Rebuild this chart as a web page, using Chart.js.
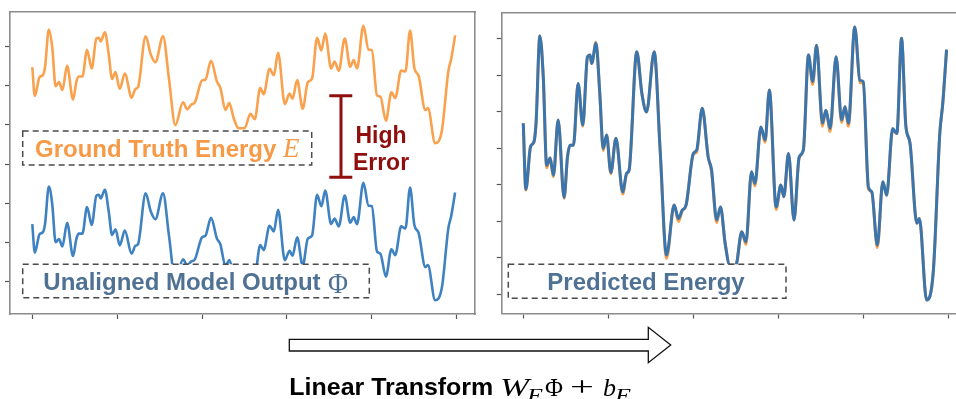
<!DOCTYPE html>
<html><head><meta charset="utf-8">
<script src="https://cdn.jsdelivr.net/npm/chart.js@4"></script>
<style>
html,body{margin:0;padding:0;background:#fff;overflow:hidden;width:956px;height:399px;}
#wrap{position:relative;width:956px;height:399px;overflow:hidden;}
#c1{position:absolute;left:0;top:0;}
#c2{position:absolute;left:490px;top:0;}
#ann{position:absolute;left:0;top:0;}
</style></head><body>
<div id="wrap">
<canvas id="c1" width="490" height="330" style="width:490px;height:330px"></canvas>
<canvas id="c2" width="490" height="330" style="width:490px;height:330px"></canvas>
<svg id="ann" width="956" height="399" viewBox="0 0 956 399">
 <g fill="#fff" stroke="#4a4a4a" stroke-width="1.5" stroke-dasharray="6 4">
  <rect x="22.7" y="131" width="289" height="34"/>
  <rect x="22.7" y="264.3" width="346.6" height="33.4"/>
  <rect x="508.3" y="264.3" width="277.7" height="34"/>
 </g>
 <text x="35" y="157" font-family="Liberation Sans, Arial, sans-serif" font-weight="bold" font-size="24" fill="#f79a48">Ground Truth Energy</text>
 <text x="283" y="157" font-family="Liberation Serif, serif" font-style="italic" font-size="27" fill="#f79a48">E</text>
 <text x="43.3" y="290" font-family="Liberation Sans, Arial, sans-serif" font-weight="bold" font-size="24" fill="#4f7194">Unaligned Model Output</text>
 <text x="328" y="293" font-family="Liberation Serif, serif" font-size="30" textLength="20" lengthAdjust="spacingAndGlyphs" fill="#4f7194">Φ</text>
 <text x="547.3" y="290" font-family="Liberation Sans, Arial, sans-serif" font-weight="bold" font-size="24" fill="#4f7194">Predicted Energy</text>
 <path d="M329.3 95.7 H352.3 M341 95.7 V177.3 M329.3 177.3 H352.3" stroke="#8f0e0e" stroke-width="3" fill="none"/>
 <text x="381" y="143.3" text-anchor="middle" font-family="Liberation Sans, Arial, sans-serif" font-weight="bold" font-size="23" fill="#8f0e0e">High</text>
 <text x="381" y="170" text-anchor="middle" font-family="Liberation Sans, Arial, sans-serif" font-weight="bold" font-size="23" fill="#8f0e0e">Error</text>
 <polygon points="289.3,339.3 648.3,339.3 648.3,327.3 670.7,345 648.3,362.7 648.3,351 289.3,351" fill="#fff" stroke="#111" stroke-width="1.3"/>
 <text x="289.3" y="395" font-family="Liberation Sans, Arial, sans-serif" font-weight="bold" font-size="24" textLength="204" lengthAdjust="spacingAndGlyphs" fill="#000">Linear Transform</text>
 <g font-family="Liberation Serif, serif" fill="#000">
  <text x="500" y="395.5" font-style="italic" font-size="25" textLength="29" lengthAdjust="spacingAndGlyphs">W</text>
  <text x="527" y="402" font-style="italic" font-size="19" textLength="16" lengthAdjust="spacingAndGlyphs">E</text>
  <text x="545" y="396" font-size="26" textLength="18" lengthAdjust="spacingAndGlyphs">Φ</text>
  <text x="570" y="396" font-size="27" textLength="24" lengthAdjust="spacingAndGlyphs">+</text>
  <text x="603" y="396" font-style="italic" font-size="26" textLength="13" lengthAdjust="spacingAndGlyphs">b</text>
  <text x="615" y="402" font-style="italic" font-size="19" textLength="16" lengthAdjust="spacingAndGlyphs">E</text>
 </g>
</svg>
</div>
<script>
// time steps (x positions of the sampled curve)
const timeSteps = [0.0, 0.6, 1.7, 2.5, 3.0, 3.9, 4.7, 5.5, 6.3, 7.1,
  8.2, 9.6, 10.4, 11.0, 11.8, 12.9, 14.0, 15.1, 15.7, 16.1,
  17.1, 18.0, 18.8, 19.6, 20.6, 21.8, 23.4, 24.3, 24.9, 26.7,
  27.9, 29.0, 30.8, 32.2, 33.7, 35.5, 36.5, 37.4, 38.3, 40.0,
  40.8, 42.1, 43.5, 44.3, 45.5, 46.4, 47.5, 48.6, 50.0, 51.4,
  52.4, 53.7, 54.5, 55.9, 56.9, 57.9, 59.5, 60.6, 61.3, 62.4,
  63.7, 64.9, 65.9, 67.1, 68.1, 69.0, 70.4, 71.2, 72.2, 73.6,
  74.9, 75.7, 76.5, 78.0, 79.2, 80.0, 81.2, 82.0, 83.3, 84.6,
  85.5, 86.9, 87.9, 89.0, 90.0, 91.0, 92.6, 93.2, 94.9, 96.5,
  98.0, 98.7, 99.6];

// ground truth energy E
const groundTruth = [4.68, 2.85, 4.04, 4.17, 4.68, 7.07, 5.95, 3.46, 3.73, 3.22,
  4.77, 2.62, 3.76, 4.08, 4.08, 5.77, 4.60, 6.50, 6.55, 6.32,
  6.90, 5.50, 3.93, 4.36, 3.30, 4.27, 2.74, 3.29, 3.40, 6.64,
  5.50, 4.99, 6.64, 3.93, 0.98, 2.44, 1.99, 2.28, 2.44, 3.83,
  3.89, 5.09, 3.76, 3.36, 1.96, 2.39, 1.39, 0.79, 0.79, 1.71,
  1.36, 3.35, 2.96, 4.58, 4.16, 5.59, 2.32, 2.99, 2.67, 3.85,
  2.03, 3.72, 3.95, 6.55, 5.74, 6.82, 4.60, 5.04, 4.45, 6.50,
  4.70, 5.13, 4.60, 7.32, 5.80, 5.76, 2.88, 2.80, 1.27, 3.08,
  2.71, 4.47, 4.40, 7.01, 4.63, 4.13, 1.94, 2.07, -0.16, 0.66,
  4.40, 5.22, 6.70];

// predicted energy W_E Φ + b_E
const predicted = [4.68, 2.87, 4.04, 4.17, 4.68, 7.07, 5.95, 3.53, 3.73, 3.26,
  4.77, 2.65, 3.76, 4.08, 4.08, 5.77, 4.63, 6.50, 6.55, 6.32,
  6.87, 5.50, 3.99, 4.36, 3.33, 4.27, 2.80, 3.31, 3.40, 6.64,
  5.50, 4.99, 6.64, 3.95, 1.07, 2.44, 2.07, 2.30, 2.44, 3.85,
  3.95, 5.09, 3.76, 3.40, 2.03, 2.39, 1.39, 0.79, 0.79, 1.71,
  1.43, 3.35, 3.03, 4.58, 4.22, 5.59, 2.39, 2.99, 2.67, 3.85,
  2.03, 3.75, 3.95, 6.55, 5.82, 6.82, 4.68, 5.04, 4.54, 6.50,
  4.77, 5.13, 4.68, 7.32, 5.86, 5.82, 2.94, 2.80, 1.34, 3.08,
  2.71, 4.54, 4.40, 7.01, 4.63, 4.13, 1.94, 2.07, -0.16, 0.66,
  4.40, 5.22, 6.70];

// unaligned model output Φ
const phi = [-5.32, -7.13, -5.96, -5.83, -5.32, -2.93, -4.05, -6.47, -6.27, -6.74,
  -5.23, -7.35, -6.24, -5.92, -5.92, -4.23, -5.37, -3.50, -3.45, -3.68,
  -3.13, -4.50, -6.01, -5.64, -6.67, -5.73, -7.20, -6.69, -6.60, -3.36,
  -4.50, -5.01, -3.36, -6.05, -8.93, -7.56, -7.93, -7.70, -7.56, -6.15,
  -6.05, -4.91, -6.24, -6.60, -7.97, -7.61, -8.61, -9.21, -9.21, -8.29,
  -8.57, -6.65, -6.97, -5.42, -5.78, -4.41, -7.61, -7.01, -7.33, -6.15,
  -7.97, -6.25, -6.05, -3.45, -4.18, -3.18, -5.32, -4.96, -5.46, -3.50,
  -5.23, -4.87, -5.32, -2.68, -4.14, -4.18, -7.06, -7.20, -8.66, -6.92,
  -7.29, -5.46, -5.60, -2.99, -5.37, -5.87, -8.06, -7.93, -10.16, -9.34,
  -5.60, -4.78, -3.30];

// tick positions (no labels shown)
const xTicks = [0, 20, 40, 60, 80, 100];
const leftYTicks = [6, 3.5, 1, -1.5, -4, -6.5, -9];
const rightYTicks = [0, 1, 2, 3, 4, 5, 6, 7];

const ORANGE = '#f9a14d';
const BLUE_L = '#3e82c2';
const BLUE_R = '#3a76ad';

function pts(vals) { return timeSteps.map((t, i) => ({ x: t, y: vals[i] })); }

function tickAxis(pos, min, max, ticks, size) {
  const horiz = pos === 'bottom' || pos === 'top';
  return {
    type: 'linear', position: pos, min: min, max: max,
    afterBuildTicks: s => { s.ticks = ticks.map(v => ({ value: v })); },
    afterFit: s => { if (horiz) s.height = size; else s.width = size; },
    ticks: { display: false },
    grid: { display: true, drawOnChartArea: false, drawTicks: ticks.length > 0, tickLength: 5, tickColor: '#555', tickWidth: 1.2, color: '#555' },
    border: { display: true, color: '#8c8c8c', width: 1.6 }
  };
}

const common = {
  responsive: false, animation: false, devicePixelRatio: 1,
  plugins: { legend: { display: false }, tooltip: { enabled: false } },
  elements: { point: { radius: 0 }, line: { cubicInterpolationMode: 'monotone' } }
};

new Chart(document.getElementById('c1'), {
  type: 'line',
  data: {
    datasets: [
      { label: 'Ground Truth Energy E', data: pts(groundTruth), borderColor: ORANGE, borderWidth: 2.6, fill: false },
      { label: 'Unaligned Model Output Φ', data: pts(phi), borderColor: BLUE_L, borderWidth: 2.6, fill: false }
    ]
  },
  options: Object.assign({}, common, {
    layout: { padding: { left: 4, top: 11.7, right: 15, bottom: 10 } },
    scales: {
      x: tickAxis('bottom', -5.25, 104.29, xTicks, 6),
      y: tickAxis('left', -11.04, 8.21, leftYTicks, 6),
      x2: tickAxis('top', -5.25, 104.29, [], 0),
      y2: tickAxis('right', -11.04, 8.21, [], 0)
    }
  })
});

new Chart(document.getElementById('c2'), {
  type: 'line',
  data: {
    datasets: [
      { label: 'Predicted Energy', data: pts(predicted), borderColor: BLUE_R, borderWidth: 3, fill: false },
      { label: 'Ground Truth Energy', data: pts(groundTruth), borderColor: ORANGE, borderWidth: 3, fill: false }
    ]
  },
  options: Object.assign({}, common, {
    layout: { padding: { left: 5.7, top: 12.3, right: 12, bottom: 10.5 } },
    scales: {
      x: tickAxis('bottom', -5.08, 104.64, xTicks, 6),
      y: tickAxis('left', -0.53, 7.72, rightYTicks, 6),
      x2: tickAxis('top', -5.08, 104.64, [], 0)
    }
  })
});
</script>
</body></html>
